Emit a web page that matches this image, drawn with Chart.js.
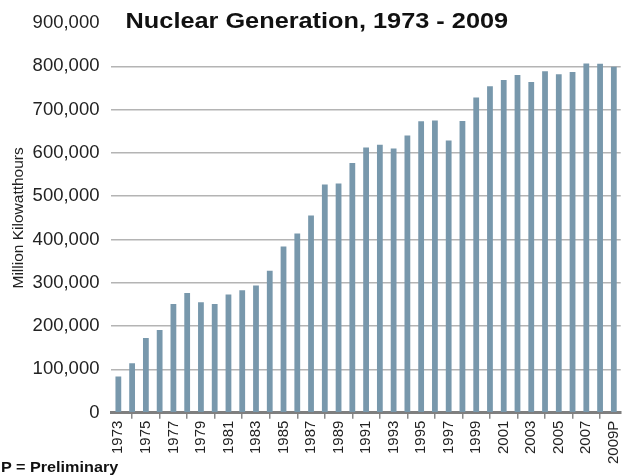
<!DOCTYPE html>
<html>
<head>
<meta charset="utf-8">
<script src="https://cdn.jsdelivr.net/npm/chart.js@4/dist/chart.umd.min.js"></script>
<style>
  html, body { margin: 0; padding: 0; background: #fff; }
  #wrap { position: relative; width: 634px; height: 475px; overflow: hidden; }
  #title { position: absolute; left: 0; width: 634px; top: 8px; text-align: center;
           font: bold 22px "Liberation Sans", Arial, sans-serif; color: #111;
           transform: scaleX(1.15); transform-origin: 318px 0; }
  #note { position: absolute; left: 1px; top: 458px;
          font: bold 15px "Liberation Sans", Arial, sans-serif; color: #111;
          transform: scaleX(1.08); transform-origin: 0 0; }
</style>
</head>
<body>
<div id="wrap">
  <canvas id="nuclearChart" width="634" height="475"></canvas>
  <div id="title">Nuclear Generation, 1973 - 2009</div>
  <div id="note">P = Preliminary</div>
</div>
<script>
const years = ['1973','1974','1975','1976','1977','1978','1979','1980','1981','1982',
  '1983','1984','1985','1986','1987','1988','1989','1990','1991','1992','1993','1994',
  '1995','1996','1997','1998','1999','2000','2001','2002','2003','2004','2005','2006',
  '2007','2008','2009P'];

// million kWh
const generation = [83500, 114000, 172500, 191100, 250900, 276400, 255200, 251100,
  272700, 282800, 293700, 327600, 383700, 414000, 455300, 527000, 529400, 576900,
  612600, 618800, 610300, 640400, 673400, 674700, 628600, 673700, 728300, 753900,
  768800, 780100, 763700, 788500, 782000, 787200, 806400, 806200, 798900];

const yTicks = [0, 100000, 200000, 300000, 400000, 500000, 600000, 700000, 800000, 900000];

const ctx = document.getElementById('nuclearChart').getContext('2d');

new Chart(ctx, {
  type: 'bar',
  data: {
    labels: years,
    datasets: [{
      label: 'Million Kilowatthours',
      data: generation,
      backgroundColor: '#7898ac',
      barPercentage: 0.42,
      categoryPercentage: 1.0
    }]
  },
  options: {
    responsive: false,
    animation: false,
    layout: { padding: { left: 0, right: 12, top: 12, bottom: 9 } },
    plugins: {
      legend: { display: false },
      tooltip: { enabled: false }
    },
    scales: {
      y: {
        min: 0,
        max: 900000,
        afterBuildTicks: (axis) => { axis.ticks = yTicks.map(v => ({ value: v })); },
        border: { display: false },
        grid: {
          color: (c) => (c.tick && (c.tick.value === 900000 || c.tick.value === 0)) ? 'rgba(0,0,0,0)' : '#b4b4b4',
          lineWidth: 1.5,
          drawTicks: false
        },
        ticks: {
          padding: 12,
          color: '#222',
          font: { family: '"Liberation Sans", Arial, sans-serif', size: 18.5 },
          callback: (v) => v.toLocaleString('en-US')
        },
        title: {
          display: true,
          text: 'Million Kilowatthours',
          color: '#222',
          padding: { top: 9, bottom: -7 },
          font: { family: '"Liberation Sans", Arial, sans-serif', size: 15.5 }
        }
      },
      x: {
        border: { display: true, color: '#7f7f7f', width: 3 },
        grid: {
          offset: true,
          drawOnChartArea: false,
          drawTicks: true,
          tickLength: 6,
          color: '#8a8a8a',
          lineWidth: 1.5
        },
        ticks: {
          autoSkip: false,
          maxRotation: 90,
          minRotation: 90,
          padding: 2,
          color: '#222',
          font: { family: '"Liberation Sans", Arial, sans-serif', size: 15 },
          callback: function (v, i) { return i % 2 === 0 ? years[i] : null; }
        }
      }
    }
  }
});
</script>
</body>
</html>
